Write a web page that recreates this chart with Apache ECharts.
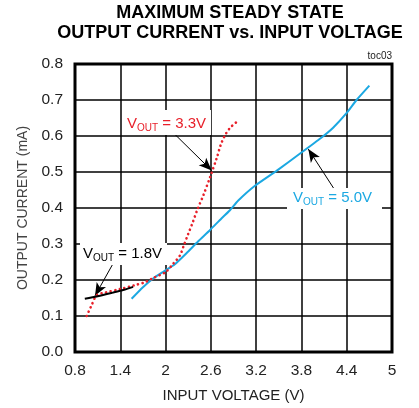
<!DOCTYPE html>
<html>
<head>
<meta charset="utf-8">
<script src="https://cdn.jsdelivr.net/npm/echarts@6/dist/echarts.min.js"></script>
<style>html,body{margin:0;padding:0;background:#fff}#c{width:419px;height:408px}</style>
</head>
<body>
<div id="c"></div>
<script>
// ---- data ----
var titleLines = ['MAXIMUM STEADY STATE', 'OUTPUT CURRENT vs. INPUT VOLTAGE'];
var xAxisName = 'INPUT VOLTAGE (V)';
var yAxisName = 'OUTPUT CURRENT (mA)';
var xTicks = [0.8, 1.4, 2, 2.6, 3.2, 3.8, 4.4, 5];
var yTicks = [0, 0.1, 0.2, 0.3, 0.4, 0.5, 0.6, 0.7, 0.8];
var seriesNames = ['VOUT = 1.8V', 'VOUT = 3.3V', 'VOUT = 5.0V'];
var v18 = [[0.93,0.148],[1.1,0.155],[1.3,0.165],[1.45,0.173],[1.57,0.181]];
var v33 = [[0.955,0.10],[1.02,0.13],[1.09,0.158],[1.2,0.165],[1.4,0.175],[1.6,0.186],[1.73,0.194],
           [1.83,0.205],[2.0,0.222],[2.1,0.245],[2.19,0.268],[2.24,0.295],[2.3,0.328],[2.36,0.36],
           [2.42,0.395],[2.5,0.435],[2.59,0.486],[2.68,0.54],[2.73,0.575],[2.79,0.603],[2.86,0.624],[2.96,0.642]];
var v50 = [[1.55,0.148],[1.7,0.18],[1.84,0.205],[1.97,0.223],[2.12,0.243],[2.28,0.275],[2.43,0.307],
           [2.59,0.339],[2.74,0.371],[2.85,0.393],[2.96,0.42],[3.18,0.461],[3.47,0.503],[3.8,0.554],
           [4.05,0.593],[4.22,0.623],[4.4,0.664],[4.53,0.70],[4.70,0.74]];
// annotation arrows: [start, tip] in data coordinates
var arrow18 = [[1.308,0.247],[1.065,0.156]];
var arrow33 = [[2.102,0.609],[2.611,0.504]];
var arrow50 = [[4.245,0.449],[3.891,0.5636]];
var labelText = [['V','OUT',' = 1.8V'],['V','OUT',' = 3.3V'],['V','OUT',' = 5.0V']];
var tocText = 'toc03';

var RED = '#e8202a', BLUE = '#1ba8e2', BLACK = '#000';
var FONT = '"Liberation Sans", Arial, sans-serif';

function arrowLine(a){
  return {
    silent: true, animation: false,
    symbol: ['none','arrow'], symbolSize: [8, 13],
    label: {show:false},
    lineStyle: {color:'#000', width:1, type:'solid'},
    emphasis: {disabled:true},
    data: [[{coord:a[0]},{coord:a[1]}]]
  };
}
function richLabel(parts, x, y, color, box){
  return [
    {type:'rect', shape:{x:box[0], y:box[1], width:box[2], height:box[3]}, style:{fill:'#fff'}, z:50},
    {type:'text', x:x, y:y, z:51, style:{
      text:'{v|'+parts[0]+'}{s|'+parts[1]+'}{v|'+parts[2]+'}',
      fill:color, fontFamily:FONT,
      rich:{
        v:{fontSize:15, lineHeight:15, verticalAlign:'top', fill:color, fontFamily:FONT},
        s:{fontSize:10, lineHeight:17.5, verticalAlign:'bottom', fill:color, fontFamily:FONT}
      }
    }}
  ];
}

var chart = echarts.init(document.getElementById('c'), null, {renderer:'canvas'});
var graphics = [
  {type:'text', x:230, y:3, style:{text:titleLines.join('\n'), align:'center', verticalAlign:'top',
    fontSize:18, fontWeight:'bold', fontFamily:FONT, lineHeight:20, fill:'#000'}},
  {type:'text', x:392, y:51, style:{text:tocText, align:'right', verticalAlign:'top',
    fontSize:10, fontFamily:FONT, fill:'#222'}}
];
graphics = graphics.concat(richLabel(labelText[1], 127, 116, RED, [122,110,89,25]));
graphics = graphics.concat(richLabel(labelText[2], 293, 190, BLUE, [287,188,95,21]));
graphics = graphics.concat(richLabel(labelText[0], 83, 246, BLACK, [80,243,87,22]));

var option = {
  animation: false,
  backgroundColor: '#fff',
  grid: {left:75, right:27, top:64, bottom:53, show:true, borderColor:'#000', borderWidth:3, z:3},
  xAxis: {
    type:'value', min:xTicks[0], max:xTicks[xTicks.length-1], interval:0.6,
    name:xAxisName, nameLocation:'middle', nameGap:36,
    nameTextStyle:{fontSize:15, color:'#222', fontFamily:FONT},
    axisLine:{show:false}, axisTick:{show:false},
    axisLabel:{fontSize:15.5, color:'#222', fontFamily:FONT, margin:11,
      formatter:function(v){return String(parseFloat(v.toFixed(1)));}},
    splitLine:{show:true, lineStyle:{color:'#000', width:1.5}}
  },
  yAxis: {
    type:'value', min:yTicks[0], max:yTicks[yTicks.length-1], interval:0.1,
    name:yAxisName, nameLocation:'middle', nameGap:38,
    nameTextStyle:{fontSize:14, color:'#444', fontFamily:FONT},
    axisLine:{show:false}, axisTick:{show:false},
    axisLabel:{fontSize:15.5, color:'#222', fontFamily:FONT, margin:12,
      formatter:function(v){return v.toFixed(1);}},
    splitLine:{show:true, lineStyle:{color:'#000', width:1.5}}
  },
  series: [
    {name:seriesNames[2], type:'line', data:v50, showSymbol:false, smooth:0.15, z:4,
     lineStyle:{color:BLUE, width:2}, markLine:arrowLine(arrow50)},
    {name:seriesNames[1], type:'line', data:v33, showSymbol:false, smooth:0.3, z:5,
     lineStyle:{color:RED, width:2.6, type:[0.1,4.6], cap:'round'}, markLine:arrowLine(arrow33)},
    {name:seriesNames[0], type:'line', data:v18, showSymbol:false, smooth:0.3, z:6,
     lineStyle:{color:BLACK, width:2}, markLine:arrowLine(arrow18)}
  ],
  graphic: graphics
};
chart.setOption(option);
</script>
</body>
</html>
